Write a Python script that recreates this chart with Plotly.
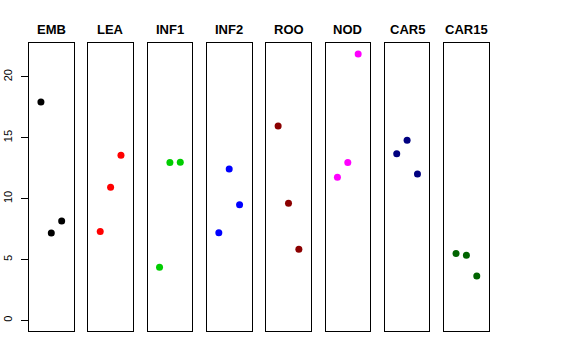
import plotly.graph_objects as go

groups = ["EMB", "LEA", "INF1", "INF2", "ROO", "NOD", "CAR5", "CAR15"]
colors = ["#000000", "#FF0000", "#00CD00", "#0000FF", "#8B0000", "#FF00FF", "#000080", "#006400"]
pos = [-1, 0, 1]
values = [
    [17.94, 7.17, 8.16],
    [7.29, 10.93, 13.56],
    [4.36, 12.96, 12.99],
    [7.20, 12.43, 9.50],
    [15.97, 9.61, 5.83],
    [11.75, 12.96, 21.88],
    [13.69, 14.79, 12.02],
    [5.50, 5.34, 3.64],
]
yticks = [0, 5, 10, 15, 20]

W, H = 576, 360
left0, pw, step = 29.0, 44.6, 59.3
top_px, bot_px = 43.0, 331.0
y0, y1 = 1 - bot_px / H, 1 - top_px / H
yr = [-0.876, 22.78]

fig = go.Figure()
annotations = []
for i, (g, c, v) in enumerate(zip(groups, colors, values)):
    sfx = "" if i == 0 else str(i + 1)
    a = left0 + i * step
    b = a + pw
    fig.add_trace(go.Scatter(
        x=pos, y=v, mode="markers",
        marker=dict(color=c, size=7, line=dict(width=0)),
        xaxis="x" + sfx, yaxis="y" + sfx, showlegend=False, hoverinfo="skip",
    ))
    fig.layout["xaxis" + sfx] = dict(
        domain=[a / W, b / W], range=[-2.15, 2.15], showgrid=False, zeroline=False,
        showticklabels=False, ticks="", showline=True, mirror=True, automargin=False,
        linecolor="#000000", linewidth=1, anchor="y" + sfx, fixedrange=True,
    )
    yax = dict(
        domain=[y0, y1], range=yr, showgrid=False, zeroline=False, automargin=False,
        showline=True, mirror=True, linecolor="#000000", linewidth=1,
        anchor="x" + sfx, fixedrange=True,
    )
    if i == 0:
        yax.update(tickmode="array", tickvals=yticks, ticktext=[str(t) for t in yticks],
                   ticks="outside", ticklen=7, tickcolor="#000000", tickwidth=1,
                   tickangle=-90, ticklabelstandoff=5,
                   tickfont=dict(family="Liberation Sans, Arial", size=11, color="#000000"))
    else:
        yax.update(showticklabels=False, ticks="")
    fig.layout["yaxis" + sfx] = yax
    annotations.append(dict(
        text="<b>%s</b>" % g, x=(a + b) / 2 / W, y=1 - 29.5 / H, xref="paper", yref="paper",
        showarrow=False, xanchor="center", yanchor="middle",
        font=dict(family="Liberation Sans, Arial", size=13, color="#000000"),
    ))

fig.update_layout(
    width=W, height=H, margin=dict(l=0, r=0, t=0, b=0, autoexpand=False),
    paper_bgcolor="white", plot_bgcolor="white", annotations=annotations,
)
fig.write_html("out.html", config={"displayModeBar": False},
               post_script="document.body.style.margin='0';")
